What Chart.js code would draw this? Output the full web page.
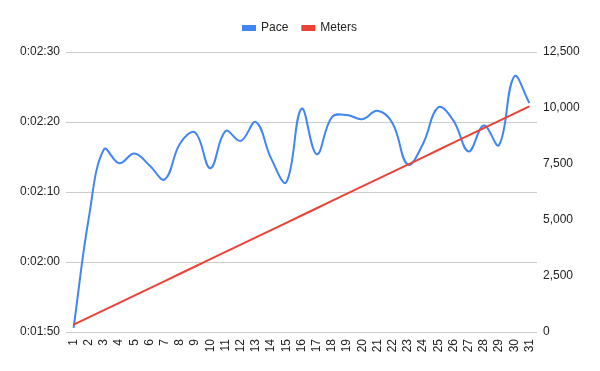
<!DOCTYPE html>
<html lang="en">
<head>
  <meta charset="UTF-8" />
  <title>Pace and Meters</title>
  <script src="https://cdn.jsdelivr.net/npm/chart.js"></script>
  <style>
    body { margin: 0; background: #fff; }
    #wrap { width: 600px; height: 371px; }
  </style>
</head>
<body>
  <div id="wrap"><canvas id="chart" width="600" height="371"></canvas></div>

  <script>
    // data
    const days = ["1", "2", "3", "4", "5", "6", "7", "8", "9", "10", "11", "12", "13", "14", "15", "16",
                  "17", "18", "19", "20", "21", "22", "23", "24", "25", "26", "27", "28", "29", "30", "31"];
    // pace in seconds (0:02:16 -> 136)
    const pace = [110.6, 126.3, 136.1, 134.1, 135.5, 133.8, 131.8, 136.9, 138.5, 133.4, 138.7, 137.3, 140.0, 134.8, 131.4, 141.9,
                  135.4, 140.7, 141.0, 140.4, 141.6, 139.8, 133.9, 136.9, 142.1, 140.2, 135.8, 139.5, 136.7, 146.5, 142.7];
    const meters = [325, 650, 975, 1300, 1625, 1950, 2275, 2600, 2925, 3250, 3575, 3900, 4225, 4550, 4875, 5200,
                    5525, 5850, 6175, 6500, 6825, 7150, 7475, 7800, 8125, 8450, 8775, 9100, 9425, 9750, 10075];
    const paceTicks = [110, 120, 130, 140, 150];
    const meterTicks = [0, 2500, 5000, 7500, 10000, 12500];

    const font = { family: "'Liberation Sans', Arial, sans-serif", size: 12 };
    const textColor = '#222';

    function fmtPace(v) {
      const m = Math.floor(v / 60), s = Math.round(v % 60);
      return '0:' + String(m).padStart(2, '0') + ':' + String(s).padStart(2, '0');
    }

    // make room between legend and plot
    const legendSpace = {
      id: 'legendSpace',
      beforeLayout(chart) {
        const lg = chart.legend;
        if (!lg || lg._patched) return;
        const fit = lg.fit;
        lg.fit = function () { fit.call(this); this.height = 44; };
        lg._patched = true;
      }
    };

    new Chart(document.getElementById('chart'), {
      type: 'line',
      data: {
        labels: days,
        datasets: [
          {
            label: 'Pace',
            data: pace,
            yAxisID: 'y',
            borderColor: '#4285F4',
            backgroundColor: '#4285F4',
            borderWidth: 2,
            tension: 0.4,
            pointRadius: 0,
            order: 1
          },
          {
            label: 'Meters',
            data: meters,
            yAxisID: 'y1',
            borderColor: '#EA4335',
            backgroundColor: '#EA4335',
            borderWidth: 2,
            tension: 0,
            pointRadius: 0,
            order: 0
          }
        ]
      },
      options: {
        responsive: false,
        animation: false,
        layout: { padding: { top: 8, left: 0, right: 0, bottom: 0 } },
        scales: {
          x: {
            offset: true,
            grid: { display: false, drawTicks: false },
            border: { display: false },
            ticks: {
              autoSkip: false, minRotation: 90, maxRotation: 90,
              padding: 7, color: textColor, font: font
            },
            afterFit(scale) { scale.height = 39; }
          },
          y: {
            position: 'left',
            min: paceTicks[0],
            max: paceTicks[paceTicks.length - 1],
            afterBuildTicks(scale) { scale.ticks = paceTicks.map(v => ({ value: v })); },
            grid: { color: '#cccccc', drawTicks: false },
            border: { display: false },
            ticks: { padding: 6, color: textColor, font: font, callback: v => fmtPace(v) },
            afterFit(scale) { scale.width = 66; }
          },
          y1: {
            position: 'right',
            min: meterTicks[0],
            max: meterTicks[meterTicks.length - 1],
            afterBuildTicks(scale) { scale.ticks = meterTicks.map(v => ({ value: v })); },
            grid: { display: false, drawTicks: false },
            border: { display: false },
            ticks: { padding: 6, color: textColor, font: font, callback: v => v.toLocaleString('en-US') },
            afterFit(scale) { scale.width = 63; }
          }
        },
        plugins: {
          legend: {
            position: 'top',
            labels: {
              boxWidth: 12, boxHeight: 4, padding: 14,
              color: textColor, font: font,
              sort: (a, b) => a.datasetIndex - b.datasetIndex
            }
          },
          tooltip: { enabled: false }
        }
      },
      plugins: [legendSpace]
    });
  </script>
</body>
</html>
